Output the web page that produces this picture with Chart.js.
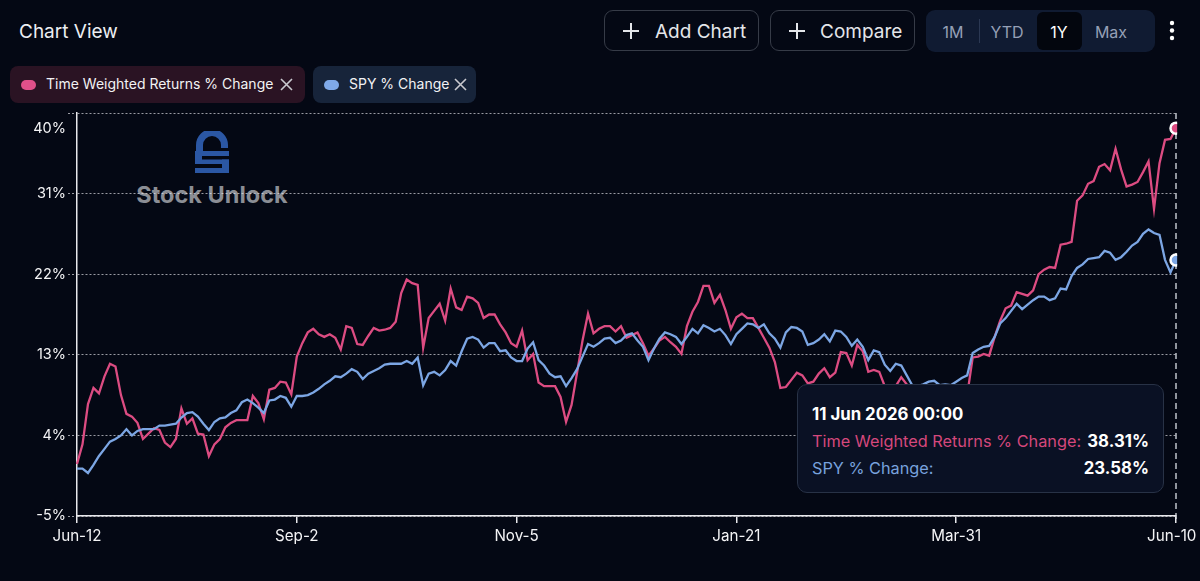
<!DOCTYPE html>
<html>
<head>
<meta charset="utf-8">
<script src="https://cdn.jsdelivr.net/npm/chart.js@4.4.1/dist/chart.umd.min.js"></script>
<style>
body { margin: 0; width: 1200px; height: 581px; background: #040814; font-family: Inter, "Noto Sans", sans-serif; color: #fff; overflow: hidden; position: relative; }
.abs { position: absolute; }
#title { left: 19px; top: 20px; font-size: 19px; color: #eceef2; }
.btn { top: 10px; height: 41px; border: 1px solid #363b47; border-radius: 9px; box-sizing: border-box; color: #e4e6ea; font-size: 19px; }
.btn svg { position: absolute; left: 17px; top: 11px; }
.btn span { position: absolute; top: 9px; }
#seg { left: 926px; top: 10px; width: 229px; height: 42px; background: #101b32; border-radius: 9px; }
.seg { position: absolute; top: 12px; font-size: 16px; color: #95a0b6; transform: translateX(-50%); }
#sel { left: 111px; top: 2px; width: 45px; height: 38px; background: #03060e; border-radius: 6px; }
.chip { top: 66px; height: 37px; border-radius: 8px; }
.chip .dot { position: absolute; top: 14px; width: 15px; height: 10px; border-radius: 5px; }
.chip .txt { position: absolute; top: 9px; font-size: 14px; color: #f2f2f4; }
.chip svg { position: absolute; top: 12px; }
#chartwrap { left: 0; top: 60px; width: 1212px; height: 521px; }
#wm { left: 120px; top: 128px; width: 184px; height: 80px; pointer-events: none; }
#wm div { position: absolute; top: 52px; width: 184px; text-align: center; font-size: 23.5px; font-weight: 700; color: #8b8e95; }
#tip { left: 797px; top: 384px; width: 367px; height: 109px; box-sizing: border-box; background: #0a1124; border: 1px solid #283246; border-radius: 10px; padding: 17px 14px 0 14px; font-size: 16.3px; }
#tip .t { font-weight: 700; font-size: 16.8px; color: #fff; line-height: 24px; margin-bottom: 2px; }
#tip .r { display: flex; justify-content: space-between; line-height: 27px; }
#tip .r b { color: #fff; font-weight: 700; font-size: 16.8px; }
</style>
</head>
<body>
<div id="title" class="abs">Chart View</div>

<div class="abs btn" style="left:604px;width:155px">
  <svg width="18" height="18"><path d="M9 1V17M1 9H17" stroke="#e4e6ea" stroke-width="2"/></svg>
  <span style="left:50px">Add Chart</span>
</div>
<div class="abs btn" style="left:770px;width:145px">
  <svg width="18" height="18"><path d="M9 1V17M1 9H17" stroke="#e4e6ea" stroke-width="2"/></svg>
  <span style="left:49px">Compare</span>
</div>
<div id="seg" class="abs">
  <div class="abs" id="sel"></div>
  <div class="seg" style="left:27px">1M</div>
  <div class="abs" style="left:53px;top:9px;width:1px;height:24px;background:#2b3853"></div>
  <div class="seg" style="left:81px">YTD</div>
  <div class="seg" style="left:133px;color:#fff">1Y</div>
  <div class="seg" style="left:185px">Max</div>
</div>
<svg class="abs" style="left:1167px;top:20px" width="10" height="22">
  <circle cx="5" cy="3" r="2.2" fill="#fff"/><circle cx="5" cy="10.5" r="2.2" fill="#fff"/><circle cx="5" cy="18" r="2.2" fill="#fff"/>
</svg>

<div class="abs chip" style="left:10px;width:295px;background:#2a1323">
  <div class="dot" style="left:11px;background:#e0508a"></div>
  <div class="txt" style="left:36px">Time Weighted Returns % Change</div>
  <svg style="left:270px" width="13" height="13"><path d="M1 1L12 12M12 1L1 12" stroke="#c9c9cf" stroke-width="1.6"/></svg>
</div>
<div class="abs chip" style="left:313px;width:163px;background:#17243a">
  <div class="dot" style="left:11px;background:#7fa9e8"></div>
  <div class="txt" style="left:36px">SPY % Change</div>
  <svg style="left:141px" width="13" height="13"><path d="M1 1L12 12M12 1L1 12" stroke="#c9c9cf" stroke-width="1.6"/></svg>
</div>

<div id="wm" class="abs">
  <svg class="abs" style="left:75px;top:3px" width="34" height="42">
    <path d="M4.5 20V14A12.5 12.5 0 0 1 29.5 14V17" stroke="#2b57a4" stroke-width="7" fill="none"/>
    <rect x="0" y="20" width="34" height="5" fill="#2b57a4"/>
    <rect x="0" y="20" width="7" height="12" fill="#2b57a4"/>
    <rect x="0" y="28.5" width="34" height="4.5" fill="#2b57a4"/>
    <rect x="27" y="28.5" width="7" height="13.5" fill="#2b57a4"/>
    <rect x="0" y="37" width="34" height="5" fill="#2b57a4"/>
  </svg>
  <div>Stock Unlock</div>
</div>

<div id="chartwrap" class="abs"><canvas id="chart" width="1212" height="521"></canvas></div>
<div id="tip" class="abs"></div>

<script>
// one point per trading-day step, 40 steps between date labels
const tickLabels = ["Jun-12", "Sep-2", "Nov-5", "Jan-21", "Mar-31", "Jun-10"];
const yTicks = [-5, 4, 13, 22, 31, 40];
const tooltipTitle = "11 Jun 2026 00:00";
const seriesNames = ["Time Weighted Returns % Change", "SPY % Change"];

const twr = [
  0.8, 3.0, 7.5, 9.3, 8.7, 10.6, 12.0, 11.7, 8.5, 6.4,
  6.1, 5.4, 3.6, 4.2, 4.8, 4.6, 3.2, 2.7, 3.6, 7.0,
  5.3, 5.9, 4.2, 4.1, 1.7, 3.0, 3.6, 4.9, 5.4, 5.7,
  5.7, 5.7, 8.4, 7.6, 5.8, 9.1, 9.3, 10.0, 9.9, 8.6,
  12.8, 14.3, 15.5, 15.9, 15.3, 15.0, 15.3, 14.9, 13.6, 16.2,
  16.0, 14.2, 14.1, 15.1, 16.0, 15.7, 15.8, 16.0, 16.7, 19.9,
  21.4, 21.0, 20.8, 13.8, 17.1, 17.9, 18.7, 16.8, 20.4, 18.3,
  18.0, 19.5, 19.3, 18.8, 17.1, 17.5, 17.5, 16.4, 15.5, 14.3,
  13.9, 15.7, 12.4, 13.1, 9.9, 9.5, 9.5, 9.5, 8.3, 5.5,
  7.4, 11.0, 14.6, 17.6, 15.4, 15.9, 16.2, 16.2, 15.6, 16.2,
  14.9, 15.2, 15.5, 14.3, 12.9, 13.7, 14.6, 15.0, 14.4, 13.9,
  13.1, 16.2, 17.8, 18.9, 20.7, 20.7, 18.8, 19.7, 18.0, 15.9,
  17.2, 17.6, 17.1, 17.1, 16.0, 14.9, 13.8, 12.2, 9.3, 9.4,
  10.2, 11.0, 10.7, 9.8, 10.0, 10.9, 11.5, 10.5, 11.0, 13.3,
  13.2, 11.8, 14.1, 13.4, 11.1, 11.3, 11.1, 9.5, 8.6, 9.5,
  10.5, 9.7, 8.5, 8.0, 8.6, 7.8, 8.2, 7.6, 8.0, 7.4,
  7.8, 7.8, 8.5, 12.7, 12.8, 13.1, 12.9, 15.0, 16.8, 18.2,
  18.5, 20.0, 19.8, 19.6, 20.2, 22.0, 22.5, 22.8, 22.7, 25.3,
  25.4, 25.6, 30.2, 30.8, 32.1, 32.4, 34.0, 34.3, 33.6, 36.0,
  33.7, 31.8, 32.0, 32.3, 33.4, 34.6, 29.3, 34.4, 37.0, 37.1,
  38.31
];

const spy = [
  0.3, 0.3, -0.2, 0.7, 1.7, 2.5, 3.3, 3.6, 4.0, 4.7,
  4.0, 4.5, 4.7, 4.7, 4.7, 5.1, 5.1, 5.2, 5.3, 6.0,
  6.5, 6.6, 6.1, 5.3, 4.6, 5.5, 5.9, 6.0, 6.5, 6.8,
  7.7, 8.0, 7.6, 7.1, 6.5, 7.9, 8.0, 8.4, 8.2, 7.2,
  8.4, 8.4, 8.5, 8.8, 9.2, 9.7, 10.1, 10.6, 10.5, 10.9,
  11.4, 11.1, 10.3, 10.9, 11.2, 11.5, 11.9, 12.0, 12.0, 12.0,
  12.3, 12.0, 12.7, 9.6, 10.9, 11.1, 10.7, 11.3, 12.3, 11.8,
  13.4, 14.8, 15.0, 14.7, 13.8, 14.3, 14.3, 13.4, 13.5, 12.7,
  12.3, 12.3, 13.7, 14.4, 12.4, 11.8, 10.9, 10.5, 10.6, 9.5,
  10.4, 11.4, 12.8, 14.2, 13.9, 14.3, 14.8, 14.9, 14.3, 14.6,
  15.2, 15.4, 14.6, 13.9, 12.4, 13.7, 14.8, 15.5, 15.3, 15.0,
  14.2, 15.0, 15.9, 15.4, 16.3, 16.0, 15.6, 15.9, 15.2, 14.2,
  15.3, 15.9, 16.5, 16.4, 16.0, 16.4, 15.4, 14.8, 13.8, 15.5,
  16.1, 16.0, 15.6, 14.1, 14.3, 14.7, 15.3, 14.5, 15.7, 15.6,
  15.0, 14.0, 14.7, 13.9, 12.4, 13.5, 13.3, 11.9, 11.2, 12.0,
  11.8, 10.7, 9.6, 9.5, 9.7, 10.0, 10.1, 9.6, 9.7, 9.6,
  10.0, 10.4, 10.7, 13.2, 13.6, 13.9, 14.0, 15.0, 16.5, 17.1,
  17.9, 18.7, 18.1, 18.6, 19.1, 19.5, 19.5, 19.1, 19.3, 20.4,
  20.3, 21.8, 22.7, 23.1, 23.7, 23.8, 23.9, 24.6, 24.4, 23.6,
  23.9, 24.5, 25.2, 25.6, 26.5, 27.0, 26.6, 26.4, 23.6, 22.2,
  23.58
];

const step = 40;
const categories = twr.map((v, i) => i);
const pink = "#dc4c82";
const blue = "#7ca6e4";
const tipPink = "#d5487c";
const tipBlue = "#78a2de";

// dashed crosshair at the hovered point
const crosshair = {
    id: "crosshair",
    beforeDatasetsDraw(chart) {
        let act = chart.tooltip.getActiveElements();
        if (!act.length) return;
        let x = act[0].element.x;
        let c = chart.ctx;
        c.save();
        c.strokeStyle = "rgba(225,228,235,0.85)";
        c.lineWidth = 1.5;
        c.setLineDash([6, 4]);
        c.beginPath();
        c.moveTo(x, chart.chartArea.top);
        c.lineTo(x, chart.chartArea.bottom + 7);
        c.stroke();
        c.restore();
    }
};

function tipBox(context) {
    let tip = context.tooltip;
    let el = document.getElementById("tip");
    if (tip.opacity === 0) { el.style.display = "none"; return; }
    el.style.display = "block";
    let cols = [tipPink, tipBlue];
    let rows = tip.dataPoints.slice().sort((a, b) => a.datasetIndex - b.datasetIndex).map(p =>
        '<div class="r"><span style="color:' + cols[p.datasetIndex] + '">' + p.dataset.label + ':</span><b>' +
        p.raw.toFixed(2) + '%</b></div>');
    el.innerHTML = '<div class="t">' + tooltipTitle + '</div>' + rows.join("");
}

// last date label is nudged left so it stays inside the frame
function xLabel(v) {
    let i = v / step;
    return i === tickLabels.length - 1 ? tickLabels[i] + "  " : tickLabels[i];
}

let c = document.getElementById("chart").getContext("2d");
let chart = new Chart(c, {
    type: "line",
    data: {
        labels: categories,
        datasets: [{
            label: seriesNames[0],
            data: twr,
            borderColor: pink,
            backgroundColor: pink,
            borderWidth: 2.3,
            pointRadius: 0,
            pointHoverRadius: 5.5,
            pointHoverBorderWidth: 2.5,
            pointHoverBorderColor: "#ffffff",
            pointHoverBackgroundColor: pink,
            tension: 0,
            order: 2
        },
        {
            label: seriesNames[1],
            data: spy,
            borderColor: blue,
            backgroundColor: blue,
            borderWidth: 2.3,
            pointRadius: 0,
            pointHoverRadius: 5.5,
            pointHoverBorderWidth: 2.5,
            pointHoverBorderColor: "#ffffff",
            pointHoverBackgroundColor: blue,
            tension: 0,
            order: 1
        }]
    },
    options: {
        responsive: false,
        animation: false,
        events: [],
        layout: { padding: { top: 53, right: 36, left: 0, bottom: 0 } },
        plugins: {
            legend: { display: false },
            tooltip: { enabled: false, mode: "index", intersect: false, external: tipBox }
        },
        scales: {
            x: {
                afterBuildTicks: s => { s.ticks = s.ticks.filter(t => t.value % step === 0); },
                afterFit: s => { s.height = 65; },
                grid: { drawOnChartArea: false, tickLength: 7, color: "#e8e8ec", lineWidth: 1.5 },
                border: { color: "#e8e8ec", width: 1.5 },
                ticks: {
                    autoSkip: false, maxRotation: 0, padding: 4, color: "#f4f4f6",
                    font: { family: "Inter", size: 15.2 },
                    callback: xLabel
                }
            },
            y: {
                min: -5,
                max: 40,
                afterBuildTicks: s => { s.ticks = yTicks.map(v => ({ value: v })); },
                afterFit: s => { s.width = 77; },
                grid: { color: "rgba(235,235,240,0.65)", tickLength: 9, tickBorderDash: [2, 2] },
                border: { color: "#e8e8ec", width: 1.5, dash: [2, 2] },
                ticks: {
                    padding: 2, color: "#f4f4f6",
                    font: { family: "Inter", size: 14.5, lineHeight: 1.07 },
                    callback: v => v === 40 ? ["", "", v + "%"] : v + "%"
                }
            }
        }
    },
    plugins: [crosshair]
});

let last = categories.length - 1;
let act = [{ datasetIndex: 0, index: last }, { datasetIndex: 1, index: last }];
chart.setActiveElements(act);
chart.tooltip.setActiveElements(act, { x: 0, y: 0 });
chart.update();
</script>
</body>
</html>
